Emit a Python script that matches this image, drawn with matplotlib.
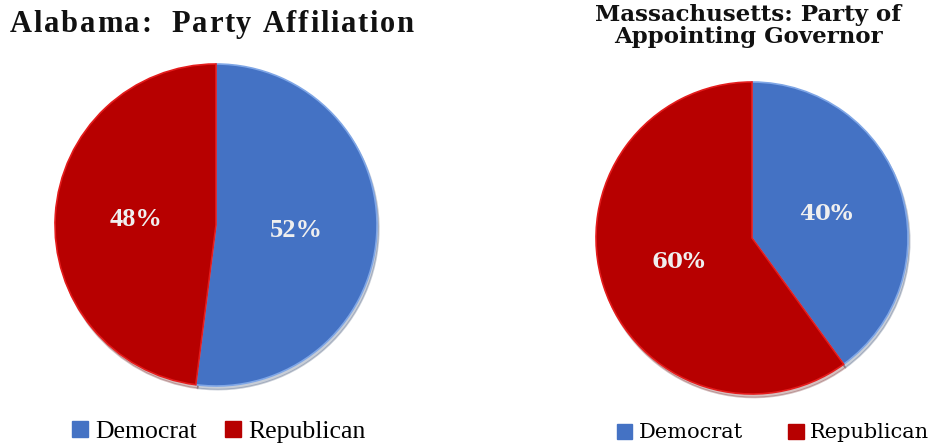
import matplotlib
matplotlib.use("Agg")
import matplotlib.pyplot as plt
from matplotlib.patches import Patch

# данные
parties = ["Democrat", "Republican"]
alabama_share = [52, 48]
mass_share = [40, 60]
party_colors = ["#4472C4", "#B70000"]
edge_colors = ["#7FA6E6", "#E41C1C"]

W, H = 934, 446
fig = plt.figure(figsize=(W / 100, H / 100), dpi=100)


# пирог в пиксельных координатах (центр, радиус)
def pie_axes(cx, cy, r, values, pct_size, family):
    pad = 1.06
    ax = fig.add_axes([(cx - r * pad) / W, (H - cy - r * pad) / H,
                       2 * r * pad / W, 2 * r * pad / H])
    wedges, _, autotexts = ax.pie(
        values, colors=party_colors, startangle=90, counterclock=False,
        autopct="%1.0f%%", pctdistance=0.5,
        shadow={"ox": 0.008, "oy": -0.016, "shade": 0.5, "alpha": 0.25},
        wedgeprops={"linewidth": 1.2},
        textprops={"color": "#EFEFEF", "fontsize": pct_size,
                   "fontweight": "bold", "family": family})
    for w, ec in zip(wedges, edge_colors):
        w.set_edgecolor(ec)
    ax.set_xlim(-pad, pad)
    ax.set_ylim(-pad, pad)
    ax.axis("off")
    return ax


# заголовок с разреженными буквами
def spaced_title(x_px, base_px, s, spacing, **kw):
    rend = fig.canvas.get_renderer()
    x = x_px
    for ch in s:
        if ch == " ":
            x += kw["fontsize"] * 100 / 72 * 0.25 + spacing
            continue
        t = fig.text(x / W, 1 - base_px / H, ch, va="baseline", ha="left", **kw)
        x += t.get_window_extent(rend).width + spacing


pie_axes(216, 225, 161, alabama_share, 19, "Liberation Serif")
pie_axes(752, 238, 156, mass_share, 16.5, "DejaVu Serif")

spaced_title(10, 32, "Alabama:  Party Affiliation", 1.7,
             fontsize=22, fontweight="bold", family="Liberation Serif",
             color="#111111")

fig.text(748 / W, 1 - 26 / H, "Massachusetts: Party of\nAppointing Governor",
         ha="center", va="center", fontsize=16.5, fontweight="bold",
         family="DejaVu Serif", color="#111111", linespacing=1.0)

handles = [Patch(facecolor=c, edgecolor=c) for c in party_colors]
fig.legend(handles, parties, loc="center", bbox_to_anchor=(219 / W, 1 - 432 / H),
           ncol=2, frameon=False, handlelength=0.6, handleheight=0.6,
           handletextpad=0.3, columnspacing=1.1,
           prop={"family": "Liberation Serif", "size": 18.5})
fig.legend(handles, parties, loc="center", bbox_to_anchor=(773 / W, 1 - 433 / H),
           ncol=2, frameon=False, handlelength=0.75, handleheight=0.75,
           handletextpad=0.3, columnspacing=2.2,
           prop={"family": "DejaVu Serif", "size": 15})

fig.savefig("out.png", dpi=100)
